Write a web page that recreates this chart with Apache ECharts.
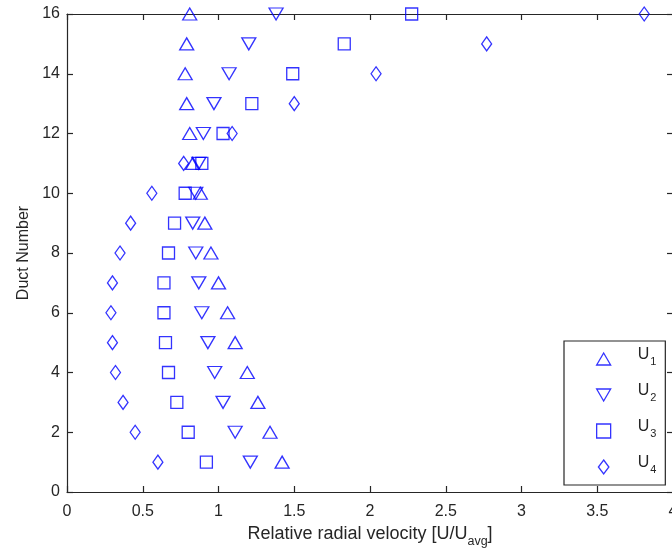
<!DOCTYPE html>
<html>
<head>
<meta charset="utf-8">
<script src="https://cdn.jsdelivr.net/npm/echarts@6/dist/echarts.min.js"></script>
<style>
  html, body { margin: 0; padding: 0; background: #fff; }
  #chart { width: 672px; height: 552px; }
</style>
</head>
<body>
<div id="chart"></div>
<script>
// Duct numbers (y) and relative radial velocity per velocity component (x)
const ducts = [1, 2, 3, 4, 5, 6, 7, 8, 9, 10, 11, 12, 13, 14, 15, 16];
const u1 = [1.42, 1.34, 1.26, 1.19, 1.11, 1.06, 1.00, 0.95, 0.91, 0.88, 0.83, 0.81, 0.79, 0.78, 0.79, 0.81];
const u2 = [1.21, 1.11, 1.03, 0.975, 0.93, 0.89, 0.87, 0.85, 0.83, 0.85, 0.87, 0.90, 0.97, 1.07, 1.20, 1.38];
const u3 = [0.92, 0.80, 0.725, 0.67, 0.65, 0.64, 0.64, 0.67, 0.71, 0.78, 0.89, 1.03, 1.22, 1.49, 1.83, 2.275];
const u4 = [0.60, 0.45, 0.37, 0.32, 0.30, 0.29, 0.30, 0.35, 0.42, 0.56, 0.77, 1.09, 1.50, 2.04, 2.77, 3.81];
const seriesNames = ['U1', 'U2', 'U3', 'U4'];
const subscripts = ['1', '2', '3', '4'];

const BLUE = '#0000ff';
const INK = '#262626';
const FONT = '"Liberation Sans", Arial, Helvetica, sans-serif';

const chart = echarts.init(document.getElementById('chart'), null, { renderer: 'canvas' });

function pairs(xs) {
  return xs.map((v, i) => [v, ducts[i]]);
}

const markerStyle = {
  color: 'rgba(0,0,0,0)',
  borderColor: BLUE,
  borderWidth: 1.3
};

function scatter(name, values, symbol, size, rotate) {
  return {
    name: name,
    type: 'scatter',
    data: pairs(values),
    symbol: symbol,
    symbolSize: size,
    symbolRotate: rotate || 0,
    clip: false,
    itemStyle: markerStyle,
    emphasis: { disabled: true }
  };
}

const baseAxis = {
  axisLine: { show: true, onZero: false, lineStyle: { color: INK, width: 1.2 } },
  axisTick: { show: true, inside: true, length: 6, lineStyle: { color: INK, width: 1.2 } },
  splitLine: { show: false }
};

const option = {
  animation: false,
  backgroundColor: '#fff',
  textStyle: { fontFamily: FONT },
  grid: { left: 67, top: 14, right: -1, bottom: 60, containLabel: false, outerBoundsMode: 'none' },
  xAxis: [
    Object.assign({}, baseAxis, {
      type: 'value', position: 'bottom', min: 0, max: 4, interval: 0.5,
      name: '{n|Relative radial velocity [U/U}{s|avg}{n|]}',
      nameLocation: 'middle', nameGap: 33,
      nameTextStyle: {
        rich: {
          n: { fontSize: 18, lineHeight: 18, color: INK, fontFamily: FONT, padding: [0, 0, 9, 0] },
          s: { fontSize: 12.5, lineHeight: 12.5, color: INK, fontFamily: FONT, padding: [10, 0, 4.5, 0] }
        }
      },
      axisLabel: { color: INK, fontSize: 16, fontFamily: FONT, margin: 12, showMaxLabel: true }
    }),
    Object.assign({}, baseAxis, {
      type: 'value', position: 'top', min: 0, max: 4, interval: 0.5,
      axisLabel: { show: false }
    })
  ],
  yAxis: [
    Object.assign({}, baseAxis, {
      type: 'value', position: 'left', min: 0, max: 16, interval: 2,
      name: 'Duct Number', nameLocation: 'middle', nameGap: 25,
      nameTextStyle: { fontSize: 16, color: INK, fontFamily: FONT },
      axisLabel: { color: INK, fontSize: 16, fontFamily: FONT, margin: 7 }
    }),
    Object.assign({}, baseAxis, {
      type: 'value', position: 'right', min: 0, max: 16, interval: 2,
      axisLabel: { show: false }
    })
  ],
  legend: {
    orient: 'vertical',
    left: 564,
    top: 341,
    padding: [6, 9, 6, 32],
    itemGap: 12,
    itemWidth: 14,
    itemHeight: 14,
    borderColor: INK,
    borderWidth: 1.2,
    backgroundColor: '#fff',
    selectedMode: false,
    itemStyle: { color: 'rgba(0,0,0,0)', borderColor: BLUE, borderWidth: 1.3 },
    data: [
      { name: 'U1', icon: 'path://M7,0 L14,12 L0,12 Z' },
      { name: 'U2', icon: 'path://M0,0 L14,0 L7,12 Z' },
      { name: 'U3', icon: 'path://M0,0 L10,0 L10,10 L0,10 Z' },
      { name: 'U4', icon: 'path://M6,0 L12,8 L6,16 L0,8 Z' }
    ],
    formatter: function (name) {
      const i = seriesNames.indexOf(name);
      return '{u|U}{s|' + subscripts[i] + '}';
    },
    textStyle: {
      rich: {
        u: { fontSize: 16, lineHeight: 16, color: INK, fontFamily: FONT, padding: [0, 0, 8, 22] },
        s: { fontSize: 11, lineHeight: 11, color: INK, fontFamily: FONT, padding: [9, 0, 4, 1] }
      }
    }
  },
  series: [
    scatter('U1', u1, 'triangle', [14, 12]),
    scatter('U2', u2, 'triangle', [14, 12], 180),
    scatter('U3', u3, 'rect', [12, 12]),
    scatter('U4', u4, 'diamond', [10, 14])
  ]
};

chart.setOption(option);
</script>
</body>
</html>
